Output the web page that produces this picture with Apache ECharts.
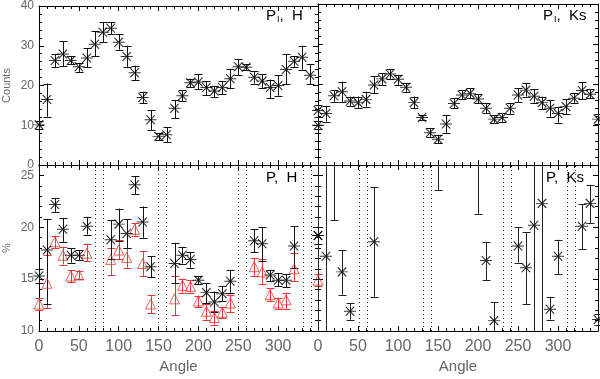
<html>
<head>
<meta charset="UTF-8">
<title>Polarization vs angle</title>
<script src="https://cdn.jsdelivr.net/npm/echarts/dist/echarts.min.js"></script>
<style>
  body { margin: 0; background: #fff; }
  #chart { width: 600px; height: 379px; }
</style>
</head>
<body>
<div id="chart"></div>
<script>
// angle bins (degrees)
var angles = [0,10,20,30,40,50,60,70,80,90,100,110,120,130,140,150,160,170,
              180,190,200,210,220,230,240,250,260,270,280,290,300,310,320,330,340,350];

// P_I, H (counts)
var countsH   = [10.1,16.5,26.3,27.9,26.3,24.7,26.9,30.4,33.4,34.4,30.9,27.3,23.2,17.0,11.4,7.2,7.6,14.3,
                 17.4,20.7,20.9,19.5,18.6,19.5,21.7,24.7,24.6,22.1,21.1,19.5,20.0,24.0,26.1,27.1,22.6,13.7];
var countsHLo = [9.1,12.2,24.6,24.9,25.3,23.4,24.6,27.3,30.9,32.9,29.0,24.7,21.3,15.6,8.7,6.2,5.8,11.8,
                 16.0,19.6,19.1,17.6,17.0,17.8,19.3,22.6,23.8,20.5,19.3,16.8,17.4,20.3,24.7,24.0,20.3,12.2];
var countsHHi = [11.1,20.5,27.8,31.2,27.3,25.7,29.4,33.7,35.9,35.9,32.9,30.0,25.0,18.4,13.8,8.0,9.5,16.3,
                 18.8,21.7,22.8,21.1,19.9,21.1,24.2,26.7,25.3,23.6,22.9,21.5,22.6,27.8,27.3,30.0,25.3,15.2];

// P_I, Ks (counts)
var countsKs   = [9.9,12.8,17.2,18.2,15.9,15.5,16.3,19.9,21.4,22.6,21.3,19.3,15.5,11.8,8.0,6.4,10.2,15.3,
                  17.4,17.8,16.4,14.1,11.4,11.8,14.1,17.4,18.6,17.1,15.5,14.1,12.8,14.5,16.6,18.5,17.6,11.4];
var countsKsLo = [8.9,10.8,15.7,15.7,14.7,14.1,14.5,17.8,19.9,21.4,19.9,18.2,14.1,11.2,7.0,5.4,8.0,14.1,
                  16.3,16.6,15.3,12.8,10.5,10.8,12.7,15.7,17.0,15.5,13.8,12.0,10.5,12.7,15.3,16.4,16.6,10.2];
var countsKsHi = [10.9,14.7,18.6,20.7,17.0,17.0,18.2,22.0,22.8,23.8,22.4,20.3,17.0,12.4,9.1,7.5,12.4,16.6,
                  18.6,19.1,17.6,15.3,12.4,12.8,15.3,19.1,20.3,18.8,17.0,16.2,14.5,16.3,17.8,20.5,18.8,12.6];

// P, H (%) black asterisks
var polH   = [15.3,17.8,22.2,19.8,17.3,17.3,20.1,null,null,18.8,20.3,19.4,24.1,20.5,16.2,null,null,16.5,
              17.3,16.9,14.9,13.7,12.8,13.6,14.8,null,null,18.7,18.4,15.4,14.9,14.9,18.2,null,null,19.2];
var polHLo = [14.6,12.6,21.5,18.6,16.6,16.8,19.3,null,null,16.9,18.7,18.0,23.2,19.0,15.2,null,null,14.6,
              16.5,16.1,14.5,12.7,11.8,12.9,13.7,null,null,17.6,16.7,14.8,14.3,14.2,16.1,null,null,18.4];
var polHHi = [16.0,20.8,22.8,20.9,18.0,17.8,21.0,null,null,20.7,21.8,20.8,24.9,22.0,17.2,null,null,18.5,
              18.1,17.6,15.3,14.6,13.8,14.3,15.9,null,null,19.8,20.0,15.9,15.6,15.5,20.1,null,null,20.0];

// P, H (%) red triangles
var polH2   = [12.6,14.6,18.6,17.3,15.3,15.4,17.5,null,null,16.9,17.8,17.1,19.8,16.5,12.6,null,null,13.1,
               14.4,14.3,12.9,11.9,11.3,11.8,12.7,null,null,16.2,15.7,13.5,12.7,13.0,16.0,null,null,14.9];
var polH2Lo = [12.0,12.2,18.0,16.4,14.7,15.0,16.7,null,null,15.4,16.9,16.1,19.2,15.3,11.7,null,null,11.5,
               13.7,13.7,12.3,11.1,10.6,11.3,11.8,null,null,15.3,14.5,12.9,12.1,12.1,14.8,null,null,14.3];
var polH2Hi = [13.2,17.3,19.2,18.1,15.9,15.8,18.4,null,null,18.0,18.8,18.0,20.4,17.7,13.5,null,null,15.3,
               15.0,14.9,13.4,12.6,11.9,12.3,13.5,null,null,17.0,16.9,14.1,13.2,13.7,17.5,null,null,15.5];

// P, Ks (%)
var polKs   = [19.2,17.2,28.0,15.7,11.9,null,null,18.6,null,null,null,null,null,null,null,28.0,null,null,
               null,null,28.0,16.8,11.0,null,null,18.2,16.1,20.2,22.3,12.1,17.2,null,null,20.1,22.3,11.1];
var polKsLo = [5.0,5.0,20.7,13.5,11.1,null,null,13.3,null,null,null,null,null,null,null,23.6,null,null,
               null,null,21.3,14.9,9.0,null,null,16.6,12.6,5.0,5.0,11.1,15.5,null,null,17.9,20.4,10.6];
var polKsHi = [30.0,30.0,32.0,17.8,12.7,null,null,23.9,null,null,null,null,null,null,null,32.0,null,null,
               null,null,32.0,18.6,12.8,null,null,20.0,19.5,30.0,30.0,13.3,18.8,null,null,22.2,24.1,11.6];

// dotted marker angles
var gapsH  = [71, 80, 150, 160, 250, 260, 332, 342];
var gapsKs = [51, 61, 131, 141, 231, 242, 312, 321];

var xTicks = { min: 0, max: 350, interval: 50 };
var countTicks = { min: 0, max: 40, interval: 10 };
var pctTicks = { min: 10, max: 26, interval: 5 };

var STAR = 'path://M-1,0L1,0M-0.7,-0.7L0.7,0.7M-0.7,0.7L0.7,-0.7';
var RED = '#e23a34';
var TXT = '#666';
var FONT = 'Liberation Sans';

var chart = echarts.init(document.getElementById('chart'), null, { renderer: 'canvas' });

function pts(v) {
    var out = [];
    for (var i = 0; i < angles.length; i++) if (v[i] != null) out.push([angles[i], v[i]]);
    return out;
}
function errs(lo, hi) {
    var out = [];
    for (var i = 0; i < angles.length; i++) if (lo[i] != null) out.push([angles[i], lo[i], hi[i]]);
    return out;
}

function errRender(color) {
    return function (params, api) {
        var cs = params.coordSys;
        var x = Math.round(api.coord([api.value(0), api.value(1)])[0]) + 0.5;
        var yHi = api.coord([api.value(0), api.value(2)])[1];
        var yLo = api.coord([api.value(0), api.value(1)])[1];
        var top = cs.y, bot = cs.y + cs.height;
        var y1 = Math.max(yHi, top), y2 = Math.min(yLo, bot);
        if (y1 >= y2) return;
        var st = { stroke: color, lineWidth: 1 };
        var kids = [{ type: 'line', shape: { x1: x, y1: y1, x2: x, y2: y2 }, style: st }];
        if (yHi >= top) kids.push({ type: 'line', shape: { x1: x - 4, y1: Math.round(yHi) + 0.5, x2: x + 4, y2: Math.round(yHi) + 0.5 }, style: st });
        if (yLo <= bot) kids.push({ type: 'line', shape: { x1: x - 4, y1: Math.round(yLo) + 0.5, x2: x + 4, y2: Math.round(yLo) + 0.5 }, style: st });
        return { type: 'group', children: kids };
    };
}

function xAxis(g, pos, labels, name) {
    return {
        type: 'value', gridIndex: g, position: pos,
        min: xTicks.min, max: xTicks.max, interval: xTicks.interval,
        name: name, nameLocation: 'middle', nameGap: 28,
        nameTextStyle: { color: TXT, fontFamily: FONT, fontSize: 15 },
        axisLine: { onZero: false, lineStyle: { color: '#000', width: 1 } },
        axisTick: { inside: true, length: 5, lineStyle: { color: '#000' } },
        minorTick: { show: true, splitNumber: 5, length: 3, lineStyle: { color: '#000' } },
        splitLine: { show: false },
        axisLabel: { show: labels, color: TXT, fontFamily: FONT, fontSize: 16, margin: 8, showMaxLabel: false }
    };
}
function yAxis(g, pos, t, labels, name) {
    return {
        type: 'value', gridIndex: g, position: pos,
        min: t.min, max: t.max, interval: t.interval,
        name: name, nameLocation: 'middle', nameGap: 27, nameRotate: 90,
        nameTextStyle: { color: TXT, fontFamily: FONT, fontSize: 11 },
        axisLine: { onZero: false, lineStyle: { color: '#000', width: 1 } },
        axisTick: { inside: true, length: 5, lineStyle: { color: '#000' } },
        minorTick: { show: true, splitNumber: 5, length: 3, lineStyle: { color: '#000' } },
        splitLine: { show: false },
        axisLabel: { show: labels, color: TXT, fontFamily: FONT, fontSize: 12, margin: 5, showMaxLabel: t.max % t.interval === 0 }
    };
}

function stars(g, v) {
    return { type: 'scatter', xAxisIndex: 2 * g, yAxisIndex: 2 * g, data: pts(v), clip: true,
             symbol: STAR, symbolSize: [12, 9], z: 5,
             itemStyle: { color: '#000', borderColor: '#000', borderWidth: 1.1 } };
}
function tris(g, v) {
    return { type: 'scatter', xAxisIndex: 2 * g, yAxisIndex: 2 * g, data: pts(v), clip: true,
             symbol: 'triangle', symbolSize: [10, 10], z: 5,
             itemStyle: { color: 'rgba(0,0,0,0)', borderColor: RED, borderWidth: 1 } };
}
function bars(g, lo, hi, color) {
    return { type: 'custom', xAxisIndex: 2 * g, yAxisIndex: 2 * g, data: errs(lo, hi),
             renderItem: errRender(color), z: 4, silent: true };
}
function dotted(g, list) {
    return { type: 'scatter', xAxisIndex: 2 * g, yAxisIndex: 2 * g, data: [], silent: true,
             markLine: { silent: true, symbol: 'none', label: { show: false },
                         lineStyle: { color: '#333', type: [1, 3], width: 1 },
                         data: list.map(function (a) { return { xAxis: a }; }) } };
}

var grids = [
    { left: 38, top: 4, width: 280, height: 161 },
    { left: 318, top: 4, width: 280, height: 161 },
    { left: 38, top: 165, width: 280, height: 166 },
    { left: 318, top: 165, width: 280, height: 166 }
];

var rich = {
    p: { fontFamily: FONT, fontSize: 15, color: TXT },
    s: { fontFamily: FONT, fontSize: 9, color: TXT, padding: [9, 0, 0, 1] }
};
function label(x, y, text) {
    return { type: 'text', left: x, top: y, z: 10, style: { text: text, rich: rich } };
}

chart.setOption({
    animation: false,
    grid: grids,
    xAxis: [
        xAxis(0, 'bottom', false), xAxis(0, 'top', false),
        xAxis(1, 'bottom', false), xAxis(1, 'top', false),
        xAxis(2, 'bottom', true, 'Angle'), xAxis(2, 'top', false),
        xAxis(3, 'bottom', true, 'Angle'), xAxis(3, 'top', false)
    ],
    yAxis: [
        yAxis(0, 'left', countTicks, true, 'Counts'), yAxis(0, 'right', countTicks, false),
        yAxis(1, 'left', countTicks, false), yAxis(1, 'right', countTicks, false),
        yAxis(2, 'left', pctTicks, true, '%'), yAxis(2, 'right', pctTicks, false),
        yAxis(3, 'left', pctTicks, false), yAxis(3, 'right', pctTicks, false)
    ],
    series: [
        bars(0, countsHLo, countsHHi, '#111'), stars(0, countsH),
        bars(1, countsKsLo, countsKsHi, '#111'), stars(1, countsKs),
        dotted(2, gapsH),
        bars(2, polH2Lo, polH2Hi, RED), tris(2, polH2),
        bars(2, polHLo, polHHi, '#111'), stars(2, polH),
        dotted(3, gapsKs),
        bars(3, polKsLo, polKsHi, '#222'), stars(3, polKs)
    ],
    graphic: [
        label(266, 8, '{p|P}{s|I}{p|,  H}'),
        label(543, 8, '{p|P}{s|I}{p|,  Ks}'),
        label(266, 170, '{p|P,  H}'),
        label(546, 170, '{p|P,  Ks}')
    ]
});
</script>
</body>
</html>
